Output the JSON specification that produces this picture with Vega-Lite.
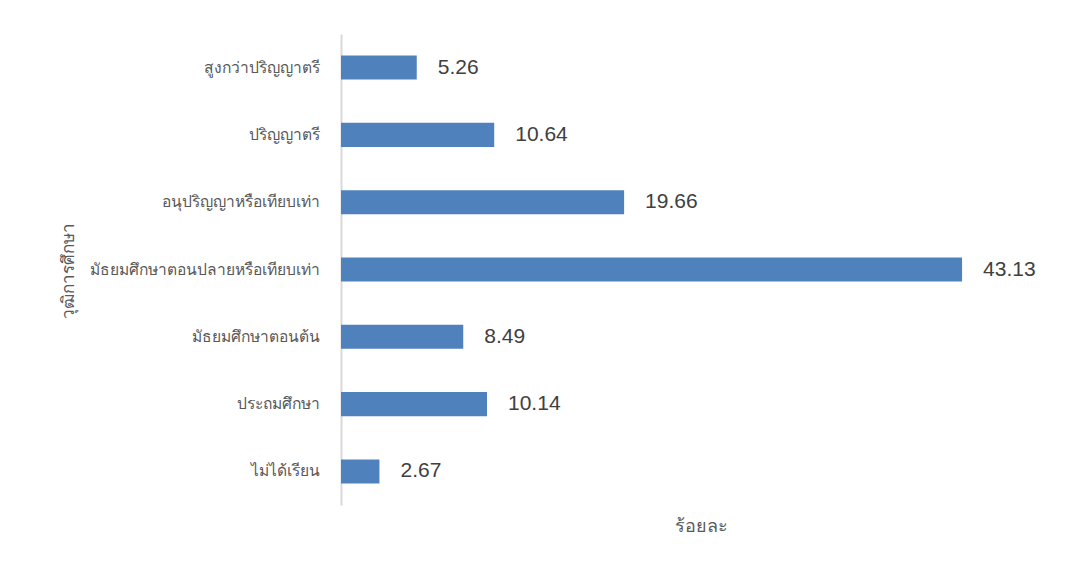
{
  "$schema": "https://vega.github.io/schema/vega-lite/v6.json",
  "width": 720,
  "height": 471,
  "autosize": {"type": "none"},
  "padding": {"left": 341, "top": 34, "right": 22, "bottom": 74},
  "background": "#ffffff",
  "config": {"view": {"stroke": null}, "font": "Noto Sans"},
  "data": {
    "values": [
      {"level": "สูงกว่าปริญญาตรี", "pct": 5.26},
      {"level": "ปริญญาตรี", "pct": 10.64},
      {"level": "อนุปริญญาหรือเทียบเท่า", "pct": 19.66},
      {"level": "มัธยมศึกษาตอนปลายหรือเทียบเท่า", "pct": 43.13},
      {"level": "มัธยมศึกษาตอนต้น", "pct": 8.49},
      {"level": "ประถมศึกษา", "pct": 10.14},
      {"level": "ไม่ได้เรียน", "pct": 2.67}
    ]
  },
  "encoding": {
    "y": {
      "field": "level",
      "type": "nominal",
      "sort": null,
      "scale": {"paddingInner": 0.643, "paddingOuter": 0.32},
      "axis": {
        "title": "วุฒิการศึกษา",
        "titleFontSize": 17,
        "titleFontWeight": "normal",
        "titleColor": "#595959",
        "titleAngle": -90,
        "titleX": -273,
        "titleY": 236,
        "titleAlign": "center",
        "titleBaseline": "middle",
        "labelFontSize": 15.6,
        "labelColor": "#595959",
        "labelPadding": 22,
        "labelLimit": 400,
        "ticks": false,
        "domainColor": "#d9d9d9",
        "domainWidth": 2,
        "grid": false
      }
    },
    "x": {
      "field": "pct",
      "type": "quantitative",
      "scale": {"domain": [0, 50], "nice": false},
      "axis": {
        "title": "ร้อยละ",
        "titleFontSize": 18,
        "titleFontWeight": "normal",
        "titleColor": "#595959",
        "titlePadding": 12,
        "labels": false,
        "ticks": false,
        "domain": false,
        "grid": false
      }
    }
  },
  "layer": [
    {"mark": {"type": "bar", "color": "#4f81bd"}},
    {
      "mark": {"type": "text", "align": "left", "baseline": "middle", "dx": 21, "fontSize": 21, "color": "#404040", "font": "Liberation Sans"},
      "encoding": {"text": {"field": "pct", "type": "quantitative", "format": ".2f"}}
    }
  ]
}
